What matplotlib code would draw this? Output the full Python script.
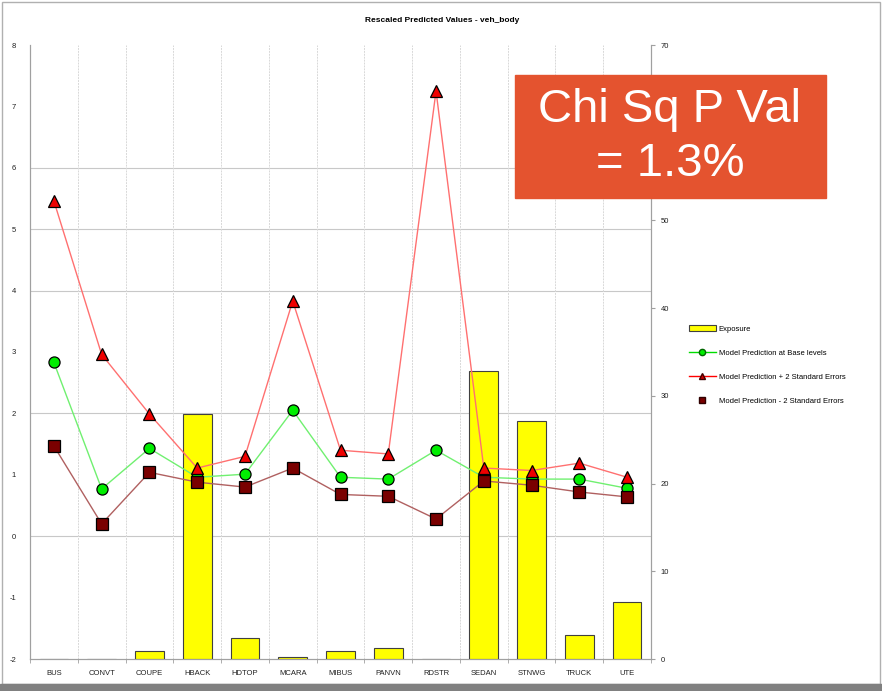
import numpy as np
import matplotlib
matplotlib.use('Agg')
import matplotlib.pyplot as plt
from matplotlib.lines import Line2D
from matplotlib.patches import Patch, Rectangle

plt.rcParams['font.family'] = ['Liberation Sans', 'DejaVu Sans']
plt.rcParams['axes.unicode_minus'] = False

cats = ['BUS', 'CONVT', 'COUPE', 'HBACK', 'HDTOP', 'MCARA', 'MIBUS',
        'PANVN', 'RDSTR', 'SEDAN', 'STNWG', 'TRUCK', 'UTE']
exposure = [0, 0, 0.9, 27.9, 2.4, 0.2, 0.9, 1.25, 0, 32.8, 27.1, 2.7, 6.5]
base_pred = [2.83, 0.77, 1.43, 0.96, 1.01, 2.05, 0.96, 0.93, 1.40, 0.96, 0.93, 0.93, 0.78]
upper_pred = [5.46, 2.96, 1.99, 1.11, 1.30, 3.83, 1.40, 1.34, 7.25, 1.11, 1.07, 1.19, 0.96]
lower_pred = [1.47, 0.20, 1.04, 0.88, 0.80, 1.11, 0.68, 0.65, 0.28, 0.90, 0.83, 0.72, 0.64]
right_ticks = [0, 10, 20, 30, 40, 50, 60, 70]
# the 60 label sits under the callout box in the original
right_labels = ['0', '10', '20', '30', '40', '50', '', '70']

x = np.arange(len(cats))

fig = plt.figure(figsize=(8.82, 6.91), dpi=100)
ax = fig.add_axes([30/882, 1-659/691, 621/882, 614/691])
ax2 = ax.twinx()

# bars on the right axis, drawn behind the lines
ax2.bar(x, exposure, width=0.6, color='#FFFF00', edgecolor='#404040', linewidth=0.8, zorder=3)
ax2.set_ylim(0, 70)
ax2.set_yticks(right_ticks)
ax2.set_yticklabels(right_labels)

# grid lines (left axis values 0,2,4,5,6 -> right axis)
for v in [0, 2, 4, 5, 6]:
    ax2.axhline((v + 2) * 7, color='#c8c8c8', lw=0.8, zorder=1)
for b in np.arange(0.5, len(cats) - 1, 1):
    ax2.axvline(b, color='#d8d8d8', lw=0.7, ls=(0, (2, 1)), zorder=1)

ax.set_zorder(ax2.get_zorder() + 1)
ax.patch.set_visible(False)

ax.plot(x, base_pred, color='#70F070', lw=1, zorder=3)
ax.plot(x, upper_pred, color='#FF7070', lw=1, zorder=3)
ax.plot(x, lower_pred, color='#B06060', lw=1, zorder=3)
ax.plot(x, base_pred, 'o', ms=8, mfc='#00EE00', mec='black', mew=0.9, zorder=4)
ax.plot(x, upper_pred, '^', ms=8, mfc='#EE0000', mec='black', mew=0.9, zorder=4)
ax.plot(x, lower_pred, 's', ms=8, mfc='#7A0000', mec='black', mew=0.9, zorder=4)

ax.set_xlim(-0.5, len(cats) - 0.5)
ax.set_ylim(-2, 8)
ax.set_yticks(range(-2, 9))
ax.set_xticks(x)
ax.set_xticklabels(cats)
ax.set_xticks(np.arange(-0.5, len(cats), 1), minor=True)

for a in (ax, ax2):
    a.spines['top'].set_visible(False)
    a.spines['left'].set_color('#a0a0a0')
    a.spines['right'].set_color('#a0a0a0')
    a.spines['bottom'].set_color('#a0a0a0')
    a.tick_params(labelsize=5.5, colors='#202020')
ax.tick_params(axis='y', length=0, pad=10)
ax.tick_params(axis='x', which='major', length=0, pad=8)
ax.tick_params(axis='x', which='minor', length=3, color='#a0a0a0')
ax2.tick_params(axis='y', length=3, color='#a0a0a0', pad=4)

fig.text(442/882, 1-20/691, 'Rescaled Predicted Values - veh_body',
         ha='center', va='center', fontsize=6, fontweight='bold')

handles = [
    Patch(facecolor='#FFFF00', edgecolor='#404040', linewidth=0.8),
    Line2D([], [], color='#00DD00', marker='o', ms=4.5, mfc='#00EE00', mec='#006600', lw=1),
    Line2D([], [], color='#FF0000', marker='^', ms=4.5, mfc='#CC0000', mec='#400000', lw=1),
    Line2D([], [], color='none', marker='s', ms=4.5, mfc='#7A0000', mec='#300000', lw=0),
]
labels = ['Exposure', 'Model Prediction at Base levels',
          'Model Prediction + 2 Standard Errors', 'Model Prediction - 2 Standard Errors']
fig.legend(handles, labels, loc='upper left', bbox_to_anchor=(686/882, 1-322/691),
           frameon=False, fontsize=5.5, labelspacing=2.15, handlelength=3.5,
           handleheight=0.8, handletextpad=0.4, borderaxespad=0)

# chi square callout
fig.patches.append(Rectangle((515/882, 1-198/691), 311/882, 123/691,
                             transform=fig.transFigure, color='#E4532F', zorder=10))
fig.text(670/882, 1-110/691, 'Chi Sq P Val', ha='center', va='center',
         fontsize=34, color='white', zorder=11)
fig.text(670/882, 1-164/691, '= 1.3%', ha='center', va='center',
         fontsize=34, color='white', zorder=11)

# outer frame
fig.patches.append(Rectangle((0.002, 0.01), 0.996, 0.987, transform=fig.transFigure,
                             fill=False, edgecolor='#b0b0b0', lw=1))
fig.patches.append(Rectangle((0, 0), 1, 7/691, transform=fig.transFigure,
                             color='#808080'))

fig.savefig('out.png', dpi=100)
